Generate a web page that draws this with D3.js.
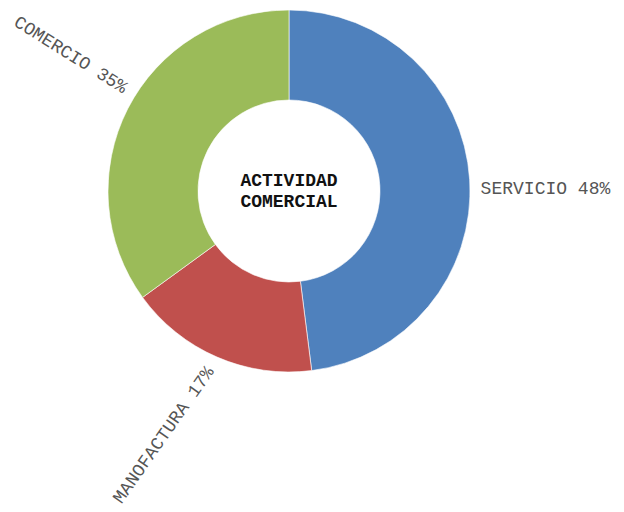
<!DOCTYPE html>
<html>
<head>
<meta charset="utf-8">
<script src="https://cdn.jsdelivr.net/npm/d3@7"></script>
<style>
  body { margin: 0; background: #fff; }
  svg { display: block; }
  .lbl { font-family: "Liberation Mono", "Courier New", monospace; font-size: 18px; fill: #555; }
  .title { font-family: "Liberation Mono", "Courier New", monospace; font-size: 18px; font-weight: bold; fill: #111; }
</style>
</head>
<body>
<svg id="chart" width="624" height="512"></svg>
<script>
"use strict";

// data
var categories = ['SERVICIO', 'MANOFACTURA', 'COMERCIO'];
var shares = [48, 17, 35];
var colors = ['#4F81BD', '#C0504D', '#9BBB59'];
var titleLines = ['ACTIVIDAD', 'COMERCIAL'];

// layout
var cx = 289, cy = 191, outerR = 181, innerR = 91;
// label rotation (deg), anchor and nudge per slice
var labelRot = [0, -55, 32];
var labelAnchor = ['start', 'end', 'end'];
var labelShift = [[-1, 9], [-3, 0], [9, -15]];

var svg = d3.select('#chart');
var g = svg.append('g').attr('transform', 'translate(' + cx + ',' + cy + ')');

var pie = d3.pie().sort(null).value(function(d){ return d; });
var arcs = pie(shares);

var arc = d3.arc().innerRadius(innerR).outerRadius(outerR);
var labelArc = d3.arc().innerRadius(outerR + 12).outerRadius(outerR + 12);

g.selectAll('path.slice')
	.data(arcs).enter()
	.append('path')
		.attr('class', 'slice')
		.attr('d', arc)
		.attr('fill', function(d, i){ return colors[i]; })
		.attr('stroke', '#fff')
		.attr('stroke-width', 0.6);

//*-*-*-*-*-*-*-*-*-*-*-*
// slice labels
//*-*-*-*-*-*-*-*-*-*-*-*
g.selectAll('text.lbl')
	.data(arcs).enter()
	.append('text')
		.attr('class', 'lbl')
		.attr('text-anchor', function(d, i){ return labelAnchor[i]; })
		.attr('dy', '0.35em')
		.attr('transform', function(d, i)
		{
			var c = labelArc.centroid(d);
			var x = c[0] + labelShift[i][0], y = c[1] + labelShift[i][1];
			return 'translate(' + x + ',' + y + ') rotate(' + labelRot[i] + ')';
		})
		.text(function(d, i){ return categories[i] + ' ' + shares[i] + '%'; });

// center title
var title = g.append('text').attr('class', 'title').attr('text-anchor', 'middle');
title.selectAll('tspan')
	.data(titleLines).enter()
	.append('tspan')
		.attr('x', 0)
		.attr('y', function(d, i){ return -5 + i * 21; })
		.text(function(d){ return d; });
</script>
</body>
</html>
